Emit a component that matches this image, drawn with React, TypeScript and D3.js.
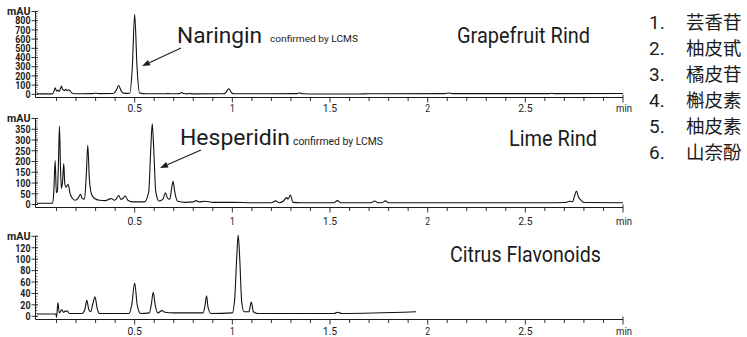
import React from "react";
import * as d3 from "d3";

// ---------- data ----------
const grapefruitTrace: [number, number][] = [
  [0, 5], [0.08, 5], [0.088, 40], [0.093, 70], [0.1, 35], [0.107, 45], [0.113, 30], [0.12, 60], [0.125, 90],
  [0.132, 50], [0.14, 40], [0.148, 55], [0.155, 40], [0.162, 50], [0.17, 35], [0.18, 12], [0.2, 6], [0.28, 7],
  [0.3, 12], [0.32, 7], [0.39, 8], [0.405, 40], [0.418, 95], [0.43, 40], [0.445, 10], [0.475, 12], [0.488, 300],
  [0.5, 870], [0.512, 300], [0.525, 15], [0.56, 6], [0.66, 6], [0.67, 9], [0.68, 6], [0.73, 7], [0.74, 20],
  [0.75, 8], [0.77, 5], [0.78, 9], [0.8, 5], [0.95, 6], [0.965, 15], [0.982, 60], [0.997, 15], [1.01, 6],
  [1.33, 7], [1.345, 14], [1.36, 6], [1.45, 3], [1.6, 3], [1.65, 4], [1.7, 6], [2.09, 7], [2.107, 14],
  [2.125, 7], [2.62, 7], [2.635, 11], [2.65, 7], [3.0, 8],
];

const limeTrace: [number, number][] = [
  [0, 6], [0.08, 6], [0.086, 60], [0.093, 205], [0.099, 55], [0.104, 60], [0.11, 200], [0.115, 365], [0.12, 180],
  [0.125, 75], [0.131, 110], [0.137, 190], [0.142, 100], [0.148, 80], [0.155, 90], [0.16, 93], [0.168, 55],
  [0.18, 30], [0.195, 20], [0.21, 28], [0.222, 47], [0.232, 28], [0.243, 25], [0.252, 130], [0.26, 275],
  [0.268, 120], [0.28, 45], [0.295, 28], [0.32, 20], [0.35, 18], [0.37, 25], [0.38, 28], [0.395, 20],
  [0.405, 25], [0.418, 42], [0.43, 24], [0.44, 28], [0.452, 40], [0.465, 20], [0.49, 12], [0.55, 12],
  [0.572, 60], [0.582, 250], [0.59, 375], [0.598, 250], [0.608, 60], [0.625, 16], [0.645, 25], [0.657, 55],
  [0.668, 30], [0.68, 25], [0.69, 80], [0.697, 108], [0.705, 60], [0.72, 15], [0.76, 10], [0.8, 12],
  [0.815, 18], [0.83, 12], [0.86, 15], [0.9, 10], [1.0, 10], [1.1, 8], [1.2, 8], [1.222, 17], [1.24, 8],
  [1.26, 15], [1.278, 32], [1.285, 25], [1.297, 44], [1.31, 10], [1.35, 8], [1.52, 8], [1.538, 18],
  [1.555, 8], [1.71, 8], [1.729, 16], [1.745, 8], [1.765, 8], [1.784, 17], [1.8, 8], [2.6, 8], [2.7, 9],
  [2.728, 15], [2.742, 13], [2.752, 40], [2.762, 63], [2.772, 35], [2.785, 20], [2.8, 9], [3.0, 8],
];

const citrusTrace: [number, number][] = [
  [0, 4], [0.09, 4], [0.097, 4], [0.1, -2], [0.107, 24], [0.114, 6], [0.12, 8], [0.127, 12], [0.135, 7],
  [0.145, 9], [0.155, 9], [0.165, 5], [0.23, 5], [0.245, 12], [0.255, 28], [0.265, 12], [0.275, 8],
  [0.286, 22], [0.297, 34], [0.308, 14], [0.32, 5], [0.47, 5], [0.485, 20], [0.5, 58], [0.513, 20],
  [0.53, 5], [0.575, 6], [0.585, 20], [0.595, 42], [0.605, 20], [0.618, 6], [0.64, 10], [0.655, 7],
  [0.7, 6], [0.85, 6], [0.86, 18], [0.868, 36], [0.876, 15], [0.89, 5], [1.0, 6], [1.012, 30],
  [1.022, 100], [1.03, 142], [1.038, 100], [1.048, 25], [1.06, 8], [1.085, 8], [1.097, 25], [1.108, 8],
  [1.13, 5], [1.52, 5], [1.54, 7], [1.56, 5], [1.94, 8],
];

const xTickValues = [0.5, 1, 1.5, 2, 2.5];
const xTickLabels = ["0.5", "1", "1.5", "2", "2.5"];
const xUnit = "min";
const yUnit = "mAU";
const grapefruitYTicks = [0, 100, 200, 300, 400, 500, 600, 700, 800];
const limeYTicks = [0, 50, 100, 150, 200, 250, 300, 350];
const citrusYTicks = [0, 20, 40, 60, 80, 100, 120];
const panelTitles = ["Grapefruit Rind", "Lime Rind", "Citrus Flavonoids"];
const peakNames = ["Naringin", "Hesperidin"];
const peakNote = "confirmed by LCMS";
const legendNumbers = ["1.", "2.", "3.", "4.", "5.", "6."];
const legendNames = ["芸香苷", "柚皮甙", "橘皮苷", "槲皮素", "柚皮素", "山奈酚"];

// ---------- layout ----------
const W = 747;
const H = 337;
const FONT = "Roboto, 'Liberation Sans', sans-serif";
const INK = "#1c1c1c";
const xScale = d3.scaleLinear().domain([0, 3]).range([37, 623]);
const yAxisX = 35.5;

type Panel = {
  trace: [number, number][];
  ticks: number[];
  yMax: number;
  yZero: number;
  yTop: number;
  axisY: number;
  minor: number;
  labelY: number;
};

const panels: Panel[] = [
  { trace: grapefruitTrace, ticks: grapefruitYTicks, yMax: 900, yZero: 94.3, yTop: 11.5, axisY: 97.5, minor: 25, labelY: 112.5 },
  { trace: limeTrace, ticks: limeYTicks, yMax: 400, yZero: 204.5, yTop: 118.5, axisY: 207.5, minor: 10, labelY: 225 },
  { trace: citrusTrace, ticks: citrusYTicks, yMax: 140, yZero: 316.3, yTop: 236.3, axisY: 319.5, minor: 5, labelY: 335 },
];

const minorX = d3.range(1, 31).map((i) => i / 10);

function CondText({ x, y, s, size, anchor, bold, per }: { x: number; y: number; s: string; size: number; anchor: string; bold?: boolean; per: number }) {
  return (
    <text
      x={x}
      y={y}
      dy="0.36em"
      textAnchor={anchor}
      fontFamily={FONT}
      fontSize={size}
      fontWeight={bold ? 700 : 400}
      fill={INK}
      textLength={s.length * per}
      lengthAdjust="spacingAndGlyphs"
    >
      {s}
    </text>
  );
}

function PanelView({ p }: { p: Panel }) {
  const y = d3.scaleLinear().domain([0, p.yMax]).range([p.yZero, p.yTop]);
  const line = d3
    .line<[number, number]>()
    .x((d) => xScale(d[0]))
    .y((d) => y(d[1]))
    .curve(d3.curveMonotoneX);
  const minorY = d3.range(0, p.yMax + 0.001, p.minor);
  const majorY = [...p.ticks, p.yMax];
  return (
    <g>
      {/* y axis */}
      <line x1={yAxisX} x2={yAxisX} y1={y(p.yMax)} y2={p.axisY} stroke={INK} strokeWidth={1} />
      {minorY.map((v) => (
        <line key={"m" + v} x1={yAxisX} x2={yAxisX + 2} y1={y(v)} y2={y(v)} stroke={INK} strokeWidth={0.6} />
      ))}
      {majorY.map((v) => (
        <line key={"M" + v} x1={yAxisX - 4} x2={yAxisX + 2.5} y1={y(v)} y2={y(v)} stroke={INK} strokeWidth={0.9} />
      ))}
      {p.ticks.map((v) => (
        <CondText key={"t" + v} x={30.5} y={y(v)} s={String(v)} size={10.5} anchor="end" bold per={5.1} />
      ))}
      <CondText x={30.5} y={y(p.yMax)} s={yUnit} size={10.5} anchor="end" bold per={7.8} />
      {/* x axis */}
      <line x1={yAxisX} x2={xScale(3)} y1={p.axisY} y2={p.axisY} stroke={INK} strokeWidth={1} />
      {minorX.map((t) => {
        const major = Math.abs(t * 2 - Math.round(t * 2)) < 1e-6;
        return (
          <line key={"x" + t} x1={xScale(t)} x2={xScale(t)} y1={p.axisY - (t > 2.99 ? 3 : 0)} y2={p.axisY + (major ? 5 : 3.5)} stroke={INK} strokeWidth={0.9} />
        );
      })}
      {xTickValues.map((t, i) => (
        <CondText key={"xl" + t} x={xScale(t)} y={p.labelY - 4} s={xTickLabels[i]} size={11} anchor="middle" per={4.8} />
      ))}
      <CondText x={xScale(3) + 1} y={p.labelY - 4} s={xUnit} size={11} anchor="middle" per={5.3} />
      {/* trace */}
      <path d={line(p.trace) || ""} fill="none" stroke="#111" strokeWidth={1.1} strokeLinejoin="round" />
    </g>
  );
}

function Arrow({ x1, y1, x2, y2 }: { x1: number; y1: number; x2: number; y2: number }) {
  const a = Math.atan2(y2 - y1, x2 - x1);
  const L = 8;
  const Wd = 3;
  const bx = x2 - L * Math.cos(a);
  const by = y2 - L * Math.sin(a);
  const px = -Math.sin(a) * Wd;
  const py = Math.cos(a) * Wd;
  return (
    <g>
      <line x1={x1} y1={y1} x2={bx} y2={by} stroke={INK} strokeWidth={1.1} />
      <path d={`M${x2},${y2}L${bx + px},${by + py}L${bx - px},${by - py}Z`} fill={INK} />
    </g>
  );
}

export default function App() {
  return (
    <svg width={W} height={H} style={{ display: "block", position: "absolute", left: 0, top: 0, background: "#fff" }}>
      <rect width={W} height={H} fill="#fff" />
      {panels.map((p, i) => (
        <PanelView key={i} p={p} />
      ))}

      {/* peak annotations */}
      <text x={177} y={43} fontFamily={FONT} fontSize={22} textLength={85} lengthAdjust="spacingAndGlyphs" fill={INK}>
        {peakNames[0]}
      </text>
      <text x={270} y={42} fontFamily={FONT} fontSize={9.5} textLength={88} lengthAdjust="spacingAndGlyphs" fill={INK}>
        {peakNote}
      </text>
      <Arrow x1={181} y1={48} x2={142} y2={66} />

      <text x={180} y={145} fontFamily={FONT} fontSize={22} textLength={110} lengthAdjust="spacingAndGlyphs" fill={INK}>
        {peakNames[1]}
      </text>
      <text x={293} y={145} fontFamily={FONT} fontSize={10} textLength={90} lengthAdjust="spacingAndGlyphs" fill={INK}>
        {peakNote}
      </text>
      <Arrow x1={201} y1={150} x2={160} y2={168} />

      {/* sample titles */}
      <text x={457} y={42.5} fontFamily={FONT} fontSize={22} textLength={133} lengthAdjust="spacingAndGlyphs" fill={INK}>
        {panelTitles[0]}
      </text>
      <text x={509} y={146} fontFamily={FONT} fontSize={22} textLength={88} lengthAdjust="spacingAndGlyphs" fill={INK}>
        {panelTitles[1]}
      </text>
      <text x={450} y={261.5} fontFamily={FONT} fontSize={22} textLength={151} lengthAdjust="spacingAndGlyphs" fill={INK}>
        {panelTitles[2]}
      </text>

      {/* compound legend */}
      {legendNumbers.map((n, i) => (
        <g key={n}>
          <text x={649} y={29 + i * 26} fontFamily={FONT} fontSize={19} fill={INK}>
            {n}
          </text>
          <text x={686} y={29 + i * 26} fontFamily="'Noto Sans CJK SC', sans-serif" fontSize={18.5} fill={INK}>
            {legendNames[i]}
          </text>
        </g>
      ))}
    </svg>
  );
}
